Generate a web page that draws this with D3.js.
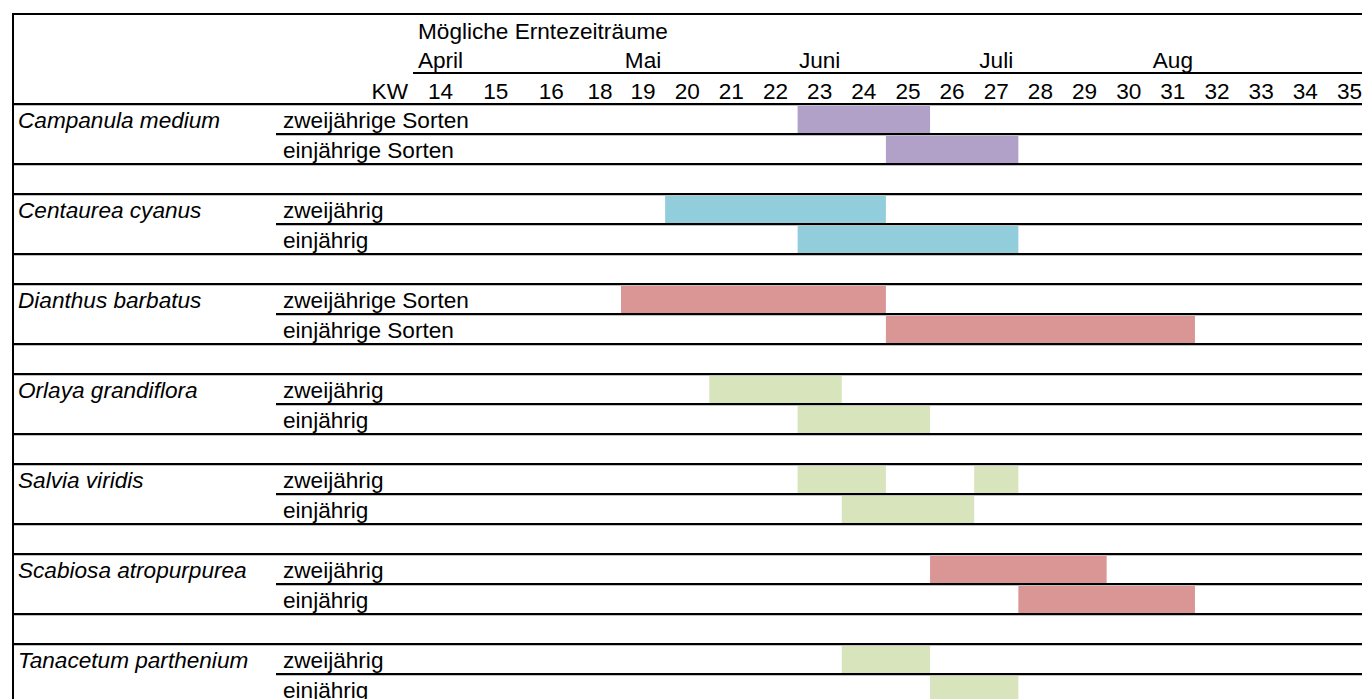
<!DOCTYPE html>
<html>
<head>
<meta charset="utf-8">
<script src="https://cdn.jsdelivr.net/npm/d3@7/dist/d3.min.js"></script>
<style>
  html, body { margin: 0; padding: 0; background: #fff; }
  svg { display: block; }
  text { font-family: "Liberation Sans", Arial, sans-serif; font-size: 22.6px; fill: #000; }
</style>
</head>
<body>
<svg id="chart" width="1362" height="699"></svg>
<script>
// Kalenderwochen (KW) der Spalten
const weeks = ["14", "15", "16", "18", "19", "20", "21", "22", "23", "24", "25",
               "26", "27", "28", "29", "30", "31", "32", "33", "34", "35"];

// Monatsbeschriftungen und die Woche, über der sie stehen
const months = ["April", "Mai", "Juni", "Juli", "Aug"];
const monthWeeks = ["14", "19", "23", "27", "31"];

// Arten
const species = ["Campanula medium", "Centaurea cyanus", "Dianthus barbatus",
                 "Orlaya grandiflora", "Salvia viridis", "Scabiosa atropurpurea",
                 "Tanacetum parthenium"];

// Sortentyp je Art (erste und zweite Zeile)
const typeFirst = ["zweijährige Sorten", "zweijährig", "zweijährige Sorten",
                   "zweijährig", "zweijährig", "zweijährig", "zweijährig"];
const typeSecond = ["einjährige Sorten", "einjährig", "einjährige Sorten",
                    "einjährig", "einjährig", "einjährig", "einjährig"];

// Erntezeiträume: [erste KW, letzte KW] je Zeile
const harvestFirst = [
  [["23", "25"]],
  [["20", "24"]],
  [["19", "24"]],
  [["21", "23"]],
  [["23", "24"], ["27", "27"]],
  [["26", "29"]],
  [["24", "25"]]
];
const harvestSecond = [
  [["25", "27"]],
  [["23", "27"]],
  [["25", "31"]],
  [["23", "25"]],
  [["24", "26"]],
  [["28", "31"]],
  [["26", "27"]]
];

// Farbgruppe je Art
const speciesColor = ["purple", "aqua", "red", "olive", "olive", "red", "olive"];

// ---- Darstellung ----
const palette = d3.scaleOrdinal()
  .domain(["purple", "aqua", "red", "olive"])
  .range(["#b1a0c7", "#92cddc", "#da9694", "#d8e4bc"]);

const W = 1362, H = 699;
const frameLeft = 13, frameTop = 14;
const rowH = 30;
const bodyTop = 104;
const typeX = 276;

// Spaltenkanten: die ersten Wochen-Spalten sind breiter als die übrigen
const colEdge = d3.scaleLinear()
  .domain([0, 1, 2, 3, 4, weeks.length])
  .range([413, 468, 523.5, 579, 621, 621 + 17 * 44.15]);
const xStart = w => colEdge(weeks.indexOf(w));
const xEnd = w => colEdge(weeks.indexOf(w) + 1);
const xMid = w => (xStart(w) + xEnd(w)) / 2;

// Zeilen: je Art zwei Zeilen plus eine Leerzeile
const y = d3.scaleLinear().domain([0, 1]).range([bodyTop, bodyTop + rowH]);

const svg = d3.select("#chart");
svg.append("rect").attr("width", W).attr("height", H).attr("fill", "#fff");

// Balken
const bars = [];
species.forEach((s, i) => {
  harvestFirst[i].forEach(r => bars.push({ row: i * 3, r, c: speciesColor[i] }));
  harvestSecond[i].forEach(r => bars.push({ row: i * 3 + 1, r, c: speciesColor[i] }));
});
svg.append("g").selectAll("rect").data(bars).join("rect")
  .attr("x", d => xStart(d.r[0]))
  .attr("width", d => xEnd(d.r[1]) - xStart(d.r[0]))
  .attr("y", d => y(d.row) + 1)
  .attr("height", rowH - 1)
  .attr("fill", d => palette(d.c));

// Gitterlinien
const nRows = species.length * 3;
const lines = svg.append("g");
const rowLines = d3.range(0, nRows).map(k => ({ k, x0: (k % 3 === 1) ? typeX : frameLeft }));
lines.selectAll("line.grid").data(rowLines).join("line")
  .attr("class", "grid")
  .attr("x1", d => d.x0).attr("x2", W)
  .attr("y1", d => y(d.k) + 1.5).attr("y2", d => y(d.k) + 1.5)
  .attr("stroke", "#c0c0c0").attr("stroke-width", 1);
lines.selectAll("line.rule").data(rowLines).join("line")
  .attr("class", "rule")
  .attr("x1", d => d.x0).attr("x2", W)
  .attr("y1", d => y(d.k)).attr("y2", d => y(d.k))
  .attr("stroke", "#000").attr("stroke-width", 2);

// Rahmen oben und links, Linie unter den Monaten
lines.append("line").attr("x1", frameLeft).attr("x2", W).attr("y1", frameTop).attr("y2", frameTop)
  .attr("stroke", "#000").attr("stroke-width", 2);
lines.append("line").attr("x1", frameLeft).attr("x2", frameLeft).attr("y1", frameTop - 1).attr("y2", H)
  .attr("stroke", "#000").attr("stroke-width", 2);
lines.append("line").attr("x1", colEdge(0)).attr("x2", W).attr("y1", 73).attr("y2", 73)
  .attr("stroke", "#000").attr("stroke-width", 2);

// Kopfzeilen
const head = svg.append("g");
head.append("text").attr("x", 418).attr("y", 39).text("Mögliche Erntezeiträume");
head.selectAll("text.month").data(months).join("text")
  .attr("class", "month")
  .attr("x", (d, i) => xMid(monthWeeks[i]))
  .attr("y", 68)
  .attr("text-anchor", "middle")
  .text(d => d);
head.append("text").attr("x", 408).attr("y", 99).attr("text-anchor", "end").text("KW");
head.selectAll("text.week").data(weeks).join("text")
  .attr("class", "week")
  .attr("x", d => xMid(d))
  .attr("y", 99)
  .attr("text-anchor", "middle")
  .text(d => d);

// Beschriftung der Arten und Sorten
const lab = svg.append("g");
lab.selectAll("text.species").data(species).join("text")
  .attr("class", "species")
  .attr("x", 18)
  .attr("y", (d, i) => y(i * 3) + 23.5)
  .attr("font-style", "italic")
  .text(d => d);
lab.selectAll("text.t1").data(typeFirst).join("text")
  .attr("class", "t1")
  .attr("x", 283)
  .attr("y", (d, i) => y(i * 3) + 23.5)
  .text(d => d);
lab.selectAll("text.t2").data(typeSecond).join("text")
  .attr("class", "t2")
  .attr("x", 283)
  .attr("y", (d, i) => y(i * 3 + 1) + 23.5)
  .text(d => d);
</script>
</body>
</html>
